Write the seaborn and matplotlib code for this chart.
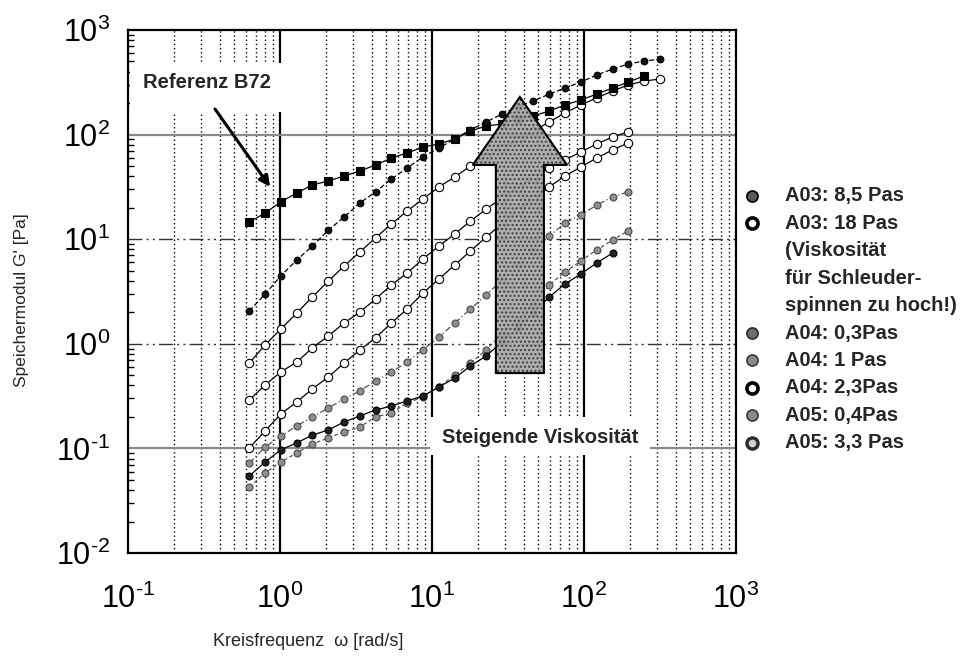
import matplotlib
matplotlib.use("Agg")
import matplotlib.pyplot as plt
from matplotlib.lines import Line2D
from matplotlib.patches import Polygon, Rectangle
from matplotlib.ticker import LogLocator, FuncFormatter, NullFormatter
import numpy as np
import pandas as pd
import seaborn as sns

# Angular frequency sweep [rad/s]
omega = [0.628, 0.798, 1.01, 1.29, 1.63, 2.08, 2.64, 3.35, 4.25, 5.40,
         6.86, 8.71, 11.1, 14.1, 17.9, 22.7, 28.8, 36.6, 46.4, 59.0,
         74.9, 95.2, 121, 154, 195, 248, 315]

# Storage modulus G' [Pa] per sample
g_b72 = [14.6, 17.8, 22.7, 27.7, 33.0, 36.0, 40.2, 44.9, 51.2, 59.7,
         66.7, 76.1, 81.3, 90.8, 108, 121, 126, 141, 151, 168,
         192, 214, 244, 279, 318, 363]
g_a03_85 = [2.06, 2.99, 4.45, 6.32, 8.61, 12.2, 16.3, 22.2, 28.3, 37.6,
            48.0, 61.1, 74.5, 90.8, 111, 132, 157, 184, 210, 244,
            279, 318, 371, 424, 473, 505, 525]
g_a03_18 = [0.655, 0.975, 1.38, 1.97, 2.80, 3.98, 5.54, 7.55, 10.3, 14.0,
            18.6, 24.2, 31.6, 39.3, 50.1, 61.1, 74.5, 88.8, 108, 132,
            161, 192, 224, 261, 298, 325, 340]
g_a05_33 = [0.290, 0.404, 0.537, 0.670, 0.912, 1.19, 1.58, 2.01, 2.68, 3.65,
            4.75, 6.47, 8.61, 11.2, 14.9, 19.4, 24.8, 30.9, 38.5, 48.0,
            57.2, 68.2, 81.3, 94.8, 106]
g_a04_23 = [0.101, 0.147, 0.213, 0.278, 0.370, 0.482, 0.655, 0.873, 1.14, 1.58,
            2.15, 3.06, 4.17, 5.66, 7.71, 10.5, 14.0, 18.6, 24.2, 31.6,
            40.2, 49.0, 59.7, 71.3, 83.2]
g_a04_1 = [0.0724, 0.103, 0.131, 0.164, 0.200, 0.243, 0.297, 0.354, 0.441, 0.537,
           0.670, 0.873, 1.16, 1.58, 2.15, 2.93, 4.07, 5.66, 7.71, 10.7,
           14.3, 17.0, 21.2, 25.3, 28.3]
g_a05_04 = [0.0545, 0.0741, 0.0966, 0.113, 0.134, 0.150, 0.179, 0.204, 0.233, 0.254,
            0.284, 0.317, 0.386, 0.471, 0.614, 0.764, 1.04, 1.42, 1.97, 2.80,
            3.73, 4.65, 5.92, 7.38]
g_a04_03 = [0.0428, 0.0582, 0.0741, 0.0904, 0.110, 0.126, 0.144, 0.160, 0.200, 0.218,
            0.272, 0.310, 0.386, 0.504, 0.655, 0.873, 1.24, 1.69, 2.35, 3.65,
            4.85, 6.19, 7.89, 9.82, 12.0]

legend_rows = ["A03: 8,5 Pas", "A03: 18 Pas", "(Viskosität", "für Schleuder-",
               "spinnen zu hoch!)", "A04: 0,3Pas", "A04: 1 Pas", "A04: 2,3Pas",
               "A05: 0,4Pas", "A05: 3,3 Pas"]

sns.set_theme(style="white")
plt.rcParams["font.family"] = ["Liberation Sans", "DejaVu Sans"]
plt.rcParams["mathtext.fontset"] = "custom"
plt.rcParams["mathtext.rm"] = "Liberation Sans"
plt.rcParams["mathtext.it"] = "Liberation Sans:italic"
plt.rcParams["mathtext.bf"] = "Liberation Sans:bold"

fig = plt.figure(figsize=(9.7, 6.61), dpi=100)
ax = fig.add_axes([0.1320, 0.1634, 0.6268, 0.7912])
ax.set_xscale("log")
ax.set_yscale("log")
ax.set_xlim(0.1, 1000)
ax.set_ylim(0.01, 1000)

gray_face = "#8f8f8f"
gray_edge = "#4a4a4a"
series = [
    (g_a04_03, dict(color="#555555", linestyle=(0, (3, 2)), marker="o", ms=5,
                    mfc=gray_face, mec=gray_edge)),
    (g_a05_04, dict(color="black", linestyle="-", marker="o", ms=5,
                    mfc="#202020", mec="black")),
    (g_a04_1, dict(color="#555555", linestyle=(0, (5, 2, 1, 2)), marker="o", ms=5,
                   mfc=gray_face, mec=gray_edge)),
    (g_a04_23, dict(color="black", linestyle="-", marker="o", ms=6,
                    mfc="white", mec="black")),
    (g_a05_33, dict(color="black", linestyle="-", marker="o", ms=6,
                    mfc="white", mec="black")),
    (g_a03_18, dict(color="black", linestyle="-", marker="o", ms=6,
                    mfc="white", mec="black")),
    (g_b72, dict(color="black", linestyle="-", marker="s", ms=5.5,
                 mfc="black", mec="black")),
    (g_a03_85, dict(color="black", linestyle=(0, (4, 2)), marker="o", ms=4.8,
                    mfc="#111111", mec="black")),
]
for g, st in series:
    df = pd.DataFrame({"omega": omega[:len(g)], "G": g})
    sns.lineplot(data=df, x="omega", y="G", ax=ax, estimator=None, sort=False,
                 lw=0.9, mew=0.8, legend=False, zorder=3, **st)

# grid: dotted minor verticals, solid decade verticals, mixed horizontals
ax.xaxis.set_minor_locator(LogLocator(base=10, subs=range(2, 10)))
ax.yaxis.set_minor_locator(LogLocator(base=10, subs=range(2, 10)))
ax.xaxis.set_minor_formatter(NullFormatter())
ax.yaxis.set_minor_formatter(NullFormatter())
ax.grid(False)
ax.grid(True, which="minor", axis="x", color="black", linestyle=(0, (1, 2)),
        lw=1.0, zorder=0.5)
for xv in [1, 10, 100]:
    ax.axvline(xv, color="black", lw=1.6, zorder=0.6)
for yv in [100, 0.1]:
    ax.axhline(yv, color="#8a8a8a", lw=1.6, zorder=0.6)
for yv in [10, 1]:
    ax.axhline(yv, color="#333333", lw=1.0, linestyle=(0, (10, 3, 1.5, 3, 1.5, 3)),
               zorder=0.6)

for s in ax.spines.values():
    s.set_color("black")
    s.set_linewidth(1.6)


def decade_label(v, pos):
    e = int(round(np.log10(v)))
    return "$\\mathdefault{10^{%s}}$" % str(e).replace("-", "\u2010")


ax.xaxis.set_major_formatter(FuncFormatter(decade_label))
ax.yaxis.set_major_formatter(FuncFormatter(decade_label))
ax.tick_params(axis="both", which="major", direction="out", length=8, width=1.5,
               colors="black", labelsize=22)
ax.tick_params(axis="x", which="major", pad=14)
ax.tick_params(axis="y", which="major", pad=5)
ax.tick_params(axis="y", which="minor", direction="in", length=4, width=1,
               left=True, colors="black")
ax.tick_params(axis="x", which="minor", length=0)
ax.set_xlabel("")
ax.set_ylabel("")

# white boxes behind the annotation texts
ax.add_patch(Rectangle((0.003, 0.843), 0.250, 0.094, transform=ax.transAxes,
                       facecolor="white", edgecolor="none", zorder=1))
ax.add_patch(Rectangle((0.497, 0.187), 0.362, 0.073, transform=ax.transAxes,
                       facecolor="white", edgecolor="none", zorder=1))

ax.text(0.025, 0.900, "Referenz B72", transform=ax.transAxes, ha="left",
        va="center", fontsize=14.5, fontweight="bold", zorder=5)
ax.annotate("", xy=(0.2336, 0.700), xytext=(0.143, 0.849),
            xycoords="axes fraction", textcoords="axes fraction",
            arrowprops=dict(arrowstyle="-|>", color="black", lw=2.2,
                            mutation_scale=16, shrinkA=0, shrinkB=0), zorder=5)
ax.text(0.678, 0.220, "Steigende Viskosität", transform=ax.transAxes,
        ha="center", va="center", fontsize=14.5, fontweight="bold", zorder=5)

# big upward arrow
arrow_pts = [(0.605, 0.344), (0.684, 0.344), (0.684, 0.742), (0.722, 0.742),
             (0.6445, 0.872), (0.567, 0.742), (0.605, 0.742)]
ax.add_patch(Polygon(arrow_pts, closed=True, transform=ax.transAxes,
                     facecolor="#a8a8a8", edgecolor="#333333", hatch="....",
                     lw=0, alpha=0.92, zorder=4))
ax.add_patch(Polygon(arrow_pts, closed=True, transform=ax.transAxes,
                     facecolor="none", edgecolor="black", lw=1.5, zorder=4.1))

# axis titles
fig.text(22 / 970, 1 - 300 / 661, "Speichermodul G' [Pa]", rotation=90,
         ha="center", va="center", fontsize=12.5)
fig.text(308 / 970, 1 - 642 / 661, "Kreisfrequenz  ω [rad/s]",
         ha="center", va="center", fontsize=13)

# legend block to the right of the plot
marker_styles = {
    0: dict(mfc="#5a5a5a", mec="black", mew=1.2),
    1: dict(mfc="white", mec="black", mew=2.6),
    5: dict(mfc="#6e6e6e", mec="#2a2a2a", mew=1.2),
    6: dict(mfc="#8a8a8a", mec="#3a3a3a", mew=1.2),
    7: dict(mfc="white", mec="black", mew=2.6),
    8: dict(mfc="#8a8a8a", mec="#3a3a3a", mew=1.2),
    9: dict(mfc="#d0d0d0", mec="#2a2a2a", mew=2.4),
}
for i, label in enumerate(legend_rows):
    y = 1 - (196 + 27.4 * i) / 661
    fig.text(785 / 970, y, label, ha="left", va="center", fontsize=14.5,
             fontweight="bold")
    if i in marker_styles:
        fig.add_artist(Line2D([752 / 970], [y], transform=fig.transFigure,
                              marker="o", ms=8, linestyle="none",
                              **marker_styles[i]))

fig.savefig("out.png", dpi=100, facecolor="white")
